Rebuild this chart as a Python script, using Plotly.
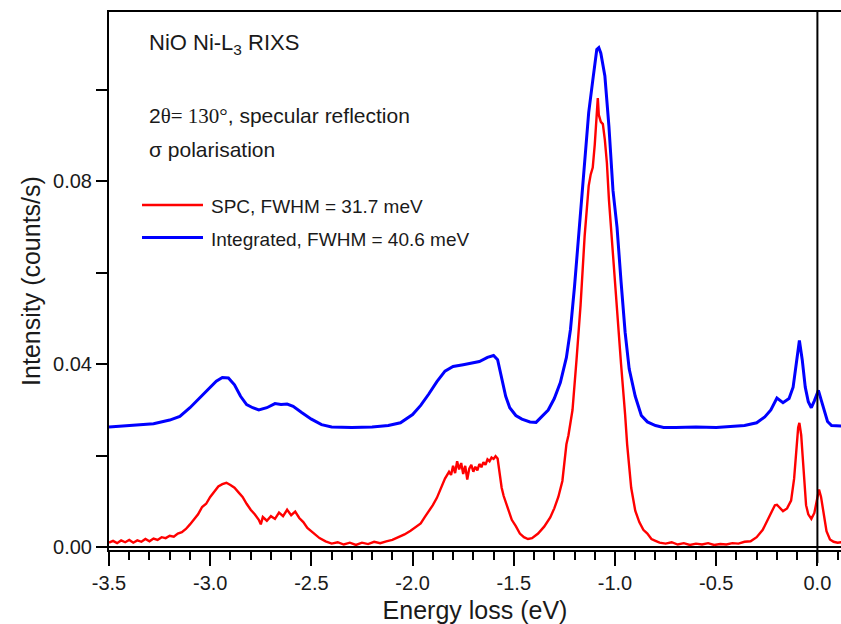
import plotly.graph_objects as go

# ---- data ----
spc_x = [-3.50, -3.48, -3.46, -3.44, -3.42, -3.40, -3.38, -3.36, -3.34, -3.32, -3.30, -3.28, -3.26, -3.24,
         -3.22, -3.20, -3.18, -3.16, -3.14, -3.12, -3.10, -3.08, -3.06, -3.04, -3.02, -3.00, -2.98, -2.96,
         -2.94, -2.92, -2.90, -2.88, -2.86, -2.84, -2.82, -2.80, -2.78, -2.76, -2.75, -2.74, -2.72, -2.70,
         -2.68, -2.66, -2.64, -2.62, -2.60, -2.58, -2.56, -2.54, -2.52, -2.49, -2.46,
         -2.43, -2.40, -2.37, -2.34, -2.31, -2.28, -2.25, -2.22, -2.19, -2.16, -2.13, -2.10, -2.07,
         -2.04, -2.01, -1.98, -1.96, -1.94, -1.92, -1.90, -1.88, -1.86, -1.84, -1.82, -1.81, -1.80, -1.79,
         -1.78, -1.77, -1.76, -1.75, -1.74, -1.73, -1.72, -1.71, -1.70, -1.69, -1.68, -1.67, -1.66, -1.65,
         -1.64, -1.63, -1.62, -1.61, -1.60, -1.59, -1.58, -1.57, -1.56, -1.55, -1.53, -1.51, -1.49, -1.47,
         -1.45, -1.43, -1.41, -1.38, -1.35, -1.32, -1.30, -1.28, -1.26, -1.24, -1.23, -1.21, -1.19,
         -1.17, -1.15, -1.13, -1.12, -1.11, -1.10, -1.09, -1.085, -1.08, -1.07, -1.06, -1.05, -1.04,
         -1.03, -1.01, -0.99, -0.97, -0.95, -0.94, -0.92, -0.90, -0.88, -0.86, -0.84, -0.82, -0.80,
         -0.78, -0.75, -0.72, -0.69, -0.66, -0.63, -0.60, -0.57, -0.54, -0.51, -0.48, -0.45, -0.42,
         -0.39, -0.36, -0.33, -0.30, -0.27, -0.25, -0.23, -0.21, -0.20, -0.185, -0.17, -0.15, -0.13,
         -0.115, -0.105, -0.095, -0.089, -0.08, -0.073, -0.065, -0.056, -0.045, -0.03, -0.015, 0.0,
         0.008, 0.018, 0.029, 0.045, 0.062, 0.08, 0.10, 0.12]
spc_y = [0.0010, 0.0014, 0.0009, 0.0015, 0.0011, 0.0016, 0.0010, 0.0015, 0.0012, 0.0018, 0.0013, 0.0019, 0.0016, 0.0022,
         0.0020, 0.0025, 0.0023, 0.0030, 0.0033, 0.0040, 0.0050, 0.0062, 0.0072, 0.0088, 0.0095, 0.0110, 0.0122, 0.0133,
         0.0138, 0.0141, 0.0136, 0.0130, 0.0120, 0.0110, 0.0095, 0.0082, 0.0072, 0.0060, 0.0050, 0.0066, 0.0058, 0.0068,
         0.0062, 0.0076, 0.0068, 0.0082, 0.0070, 0.0078, 0.0064, 0.0055, 0.0042, 0.0030, 0.0020,
         0.0013, 0.0008, 0.0011, 0.0006, 0.0010, 0.0005, 0.0010, 0.0007, 0.0012, 0.0009, 0.0013, 0.0016, 0.0022,
         0.0028, 0.0036, 0.0045, 0.0052, 0.0066, 0.0078, 0.0092, 0.0108, 0.0128, 0.0150, 0.0165, 0.0158, 0.0178, 0.0162,
         0.0188, 0.0170, 0.0184, 0.0160, 0.0178, 0.0148, 0.0172, 0.0180, 0.0165, 0.0176, 0.0168, 0.0182, 0.0175, 0.0186,
         0.0180, 0.0192, 0.0188, 0.0196, 0.0193, 0.0199, 0.0194, 0.0160, 0.0130, 0.0112, 0.0085, 0.0060, 0.0046, 0.0030,
         0.0022, 0.0018, 0.0020, 0.0030, 0.0045, 0.0065, 0.0085, 0.0110, 0.0145, 0.0225, 0.0245, 0.0300, 0.0410,
         0.0530, 0.0680, 0.0790, 0.0815, 0.0830, 0.0880, 0.0960, 0.0982, 0.0945, 0.0930, 0.0925, 0.0890, 0.0840,
         0.0760, 0.0640, 0.0510, 0.0400, 0.0290, 0.0225, 0.0130, 0.0080, 0.0055, 0.0038, 0.0030, 0.0018, 0.0014,
         0.0010, 0.0008, 0.0011, 0.0006, 0.0009, 0.0005, 0.0008, 0.0006, 0.0009, 0.0005, 0.0007, 0.0006, 0.0009,
         0.0008, 0.0012, 0.0013, 0.0022, 0.0038, 0.0055, 0.0075, 0.0092, 0.0093, 0.0085, 0.0079, 0.0085, 0.0102,
         0.0150, 0.0214, 0.0262, 0.0272, 0.0245, 0.0200, 0.0140, 0.0092, 0.0072, 0.0062, 0.0075, 0.0110,
         0.0126, 0.0110, 0.0075, 0.0035, 0.0017, 0.0012, 0.0010, 0.0011]

int_x = [-3.50, -3.42, -3.35, -3.28, -3.20, -3.15, -3.10, -3.05, -3.00, -2.97, -2.94, -2.91, -2.88, -2.85,
         -2.82, -2.79, -2.76, -2.72, -2.68, -2.65, -2.62, -2.59, -2.55, -2.50, -2.45, -2.40, -2.30, -2.20,
         -2.12, -2.06, -2.00, -1.96, -1.92, -1.88, -1.84, -1.80, -1.75, -1.71, -1.67, -1.63, -1.60, -1.58,
         -1.56, -1.54, -1.52, -1.49, -1.46, -1.42, -1.39, -1.36, -1.33, -1.30, -1.27, -1.24, -1.22, -1.20,
         -1.17, -1.15, -1.13, -1.11, -1.09, -1.08, -1.07, -1.05, -1.03, -1.01, -0.99, -0.97, -0.95, -0.93,
         -0.90, -0.87, -0.84, -0.80, -0.76, -0.70, -0.60, -0.50, -0.43, -0.36, -0.30, -0.26, -0.23, -0.20,
         -0.17, -0.14, -0.12, -0.10, -0.089, -0.075, -0.06, -0.045, -0.03, -0.015, 0.005, 0.02, 0.035,
         0.05, 0.07, 0.12]
int_y = [0.0263, 0.0265, 0.0267, 0.0270, 0.0278, 0.0286, 0.0305, 0.0327, 0.0350, 0.0363, 0.0371, 0.0370, 0.0355, 0.0330,
         0.0312, 0.0305, 0.0300, 0.0305, 0.0314, 0.0312, 0.0313, 0.0308, 0.0295, 0.0280, 0.0268, 0.0263, 0.0262, 0.0263,
         0.0266, 0.0272, 0.0290, 0.0310, 0.0335, 0.0362, 0.0385, 0.0395, 0.0399, 0.0402, 0.0406, 0.0415, 0.0419, 0.0410,
         0.0370, 0.0330, 0.0305, 0.0288, 0.0280, 0.0274, 0.0273, 0.0286, 0.0300, 0.0325, 0.0360, 0.0415, 0.0476, 0.0570,
         0.0730, 0.0840, 0.0950, 0.1020, 0.1088, 0.1092, 0.1080, 0.1030, 0.0920, 0.0780, 0.0700, 0.0580, 0.0470, 0.0390,
         0.0330, 0.0288, 0.0274, 0.0266, 0.0262, 0.0262, 0.0263, 0.0262, 0.0264, 0.0266, 0.0272, 0.0285, 0.0300, 0.0326,
         0.0316, 0.0325, 0.0350, 0.0415, 0.0452, 0.0410, 0.0350, 0.0318, 0.0305, 0.0320, 0.0343, 0.0320, 0.0295,
         0.0275, 0.0266, 0.0265]

series_names = ["SPC, FWHM = 31.7 meV", "Integrated, FWHM = 40.6 meV"]
series_colors = ["#ff0000", "#0000ff"]
series_widths = [2.4, 3]

x_ticks = [-3.5, -3.0, -2.5, -2.0, -1.5, -1.0, -0.5, 0.0]
x_tick_text = ["-3.5", "-3.0", "-2.5", "-2.0", "-1.5", "-1.0", "-0.5", "0.0"]
x_minor_ticks = [-3.4, -3.3, -3.2, -3.1, -2.9, -2.8, -2.7, -2.6, -2.4, -2.3, -2.2, -2.1,
                 -1.9, -1.8, -1.7, -1.6, -1.4, -1.3, -1.2, -1.1, -0.9, -0.8, -0.7, -0.6,
                 -0.4, -0.3, -0.2, -0.1, 0.1]
y_ticks = [0.00, 0.02, 0.04, 0.06, 0.08, 0.10]
y_tick_text = ["0.00", " ", "0.04", " ", "0.08", " "]
X_RANGE = [-3.5, 0.1166]

FONT = "Liberation Sans, Arial, sans-serif"
INK = "#1a1a1a"

fig = go.Figure()
for xs, ys, nm, col, w in zip([spc_x, int_x], [spc_y, int_y], series_names, series_colors, series_widths):
    fig.add_trace(go.Scatter(x=xs, y=ys, mode="lines", name=nm, showlegend=False,
                             line=dict(color=col, width=w)))

fig.update_layout(
    width=841, height=624,
    margin=dict(l=109, r=0, t=12, b=74),
    paper_bgcolor="white", plot_bgcolor="white",
    font=dict(family=FONT, color=INK, size=20),
    xaxis=dict(range=X_RANGE, tickmode="array", tickvals=x_ticks, ticktext=x_tick_text,
               ticks="outside", ticklen=14, tickwidth=2, tickcolor="#000000",
               minor=dict(tickmode="array", tickvals=x_minor_ticks, ticks="outside", ticklen=8,
                          tickwidth=2, tickcolor="#000000", showgrid=False),
               showline=True, linecolor="black", linewidth=2, mirror=True,
               showgrid=False, zeroline=False,
               tickfont=dict(size=20),
               title=dict(text="Energy loss (eV)", font=dict(size=25), standoff=8)),
    yaxis=dict(range=[-0.0006, 0.117], tickmode="array", tickvals=y_ticks, ticktext=y_tick_text,
               ticks="outside", ticklen=11, tickwidth=1.5, tickcolor="black",
               showline=True, linecolor="black", linewidth=2, mirror=False,
               showgrid=False, zeroline=True, zerolinecolor="black", zerolinewidth=1.5,
               tickfont=dict(size=20),
               title=dict(text="Intensity (counts/s)", font=dict(size=25), standoff=5)),
)

# vertical line at zero energy loss, extending just below the axis like the original
fig.add_shape(type="line", xref="x", yref="paper", x0=0, x1=0, y0=-0.024, y1=1,
              line=dict(color="black", width=2))
fig.add_shape(type="line", xref="paper", yref="paper", x0=0, x1=0, y0=-0.024, y1=0,
              line=dict(color="black", width=2))

# legend keys (long line samples as in the original)
legend_y = [0.6413, 0.5809]
for nm, col, w, ly in zip(series_names, series_colors, series_widths, legend_y):
    fig.add_shape(type="line", xref="paper", yref="paper", x0=0.0451, x1=0.1284, y0=ly, y1=ly,
                  line=dict(color=col, width=w))
    fig.add_annotation(xref="paper", yref="paper", x=0.136, y=ly - 0.003, xanchor="left",
                       yanchor="middle", text=nm, showarrow=False, font=dict(size=19, color=INK))

fig.add_annotation(xref="paper", yref="paper", x=0.052, y=0.94, xanchor="left", yanchor="middle",
                   text="NiO Ni-L<sub>3</sub> RIXS", showarrow=False, font=dict(size=22, color=INK))
fig.add_annotation(xref="paper", yref="paper", x=0.052, y=0.807, xanchor="left", yanchor="middle",
                   text="2<span style=\"font-family:'Liberation Serif',Times,serif\">θ= 130°</span>, specular reflection",
                   showarrow=False, font=dict(size=21, color=INK))
fig.add_annotation(xref="paper", yref="paper", x=0.052, y=0.745, xanchor="left", yanchor="middle",
                   text="σ polarisation", showarrow=False, font=dict(size=21, color=INK))

fig.write_html("out.html")
